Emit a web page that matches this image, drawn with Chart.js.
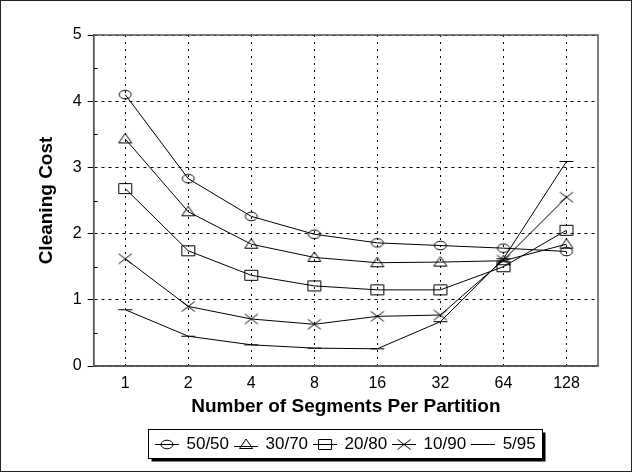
<!DOCTYPE html>
<html>
<head>
<meta charset="utf-8">
<script src="https://cdn.jsdelivr.net/npm/chart.js@4/dist/chart.umd.min.js"></script>
<style>
  html, body { margin: 0; padding: 0; background: #fff; }
  #wrap { width: 632px; height: 472px; box-sizing: border-box; border: 1px solid #222; position: relative; }
  canvas { display: block; }
</style>
</head>
<body>
<div id="wrap"><canvas id="chart" width="630" height="470"></canvas></div>
<script>
// segments per partition
const categories = ['1', '2', '4', '8', '16', '32', '64', '128'];

const cost5050 = [4.10, 2.83, 2.26, 1.99, 1.86, 1.82, 1.78, 1.73];
const cost3070 = [3.43, 2.33, 1.84, 1.64, 1.56, 1.57, 1.59, 1.84];
const cost2080 = [2.68, 1.74, 1.37, 1.21, 1.15, 1.15, 1.50, 2.05];
const cost1090 = [1.62, 0.90, 0.71, 0.63, 0.75, 0.77, 1.60, 2.55];
const cost0595 = [0.85, 0.45, 0.32, 0.27, 0.26, 0.67, 1.62, 3.09];

const seriesNames = ['50/50', '30/70', '20/80', '10/90', '5/95'];
const markers = ['ellipse', 'triangle', 'square', 'cross', 'dash'];

const yTicks = [0, 1, 2, 3, 4, 5];

const FONT = "'Liberation Sans', Arial, sans-serif";

// little canvases used as marker images (points and legend)
const makeIcon = (kind, w, h, withLine) => {
    const c = document.createElement('canvas');
    c.width = w;
    c.height = h;
    const g = c.getContext('2d');
    const cx = w / 2, cy = Math.floor(h / 2) + 0.5;
    g.strokeStyle = '#000';
    g.lineWidth = 1;
    g.beginPath();
    if (kind === 'ellipse') {
        g.ellipse(cx, cy, 6, 4.3, 0, 0, Math.PI * 2);
    } else if (kind === 'triangle') {
        g.moveTo(cx, cy - 5.5);
        g.lineTo(cx + 6.5, cy + 4);
        g.lineTo(cx - 6.5, cy + 4);
        g.closePath();
    } else if (kind === 'square') {
        g.rect(cx - 6.5, cy - 5, 13, 10);
    } else if (kind === 'cross') {
        g.moveTo(cx - 6.5, cy - 5);
        g.lineTo(cx + 6.5, cy + 5);
        g.moveTo(cx + 6.5, cy - 5);
        g.lineTo(cx - 6.5, cy + 5);
    } else if (kind === 'dash') {
        g.moveTo(cx - 7, cy);
        g.lineTo(cx + 7, cy);
    }
    g.stroke();
    if (withLine) {
        const ly = kind === 'triangle' ? cy + 2 : cy;
        g.beginPath();
        g.moveTo(0, ly);
        g.lineTo(w, ly);
        g.stroke();
    }
    return c;
};

const pointIcons = markers.map(m => makeIcon(m, 16, 13, false));
const legendIcons = markers.map(m => makeIcon(m, 24, 13, true));

const makeSet = (i, data) => ({
    label: seriesNames[i],
    data,
    borderColor: '#000',
    borderWidth: 1,
    backgroundColor: 'transparent',
    pointStyle: pointIcons[i],
    pointRadius: 7,
    pointHoverRadius: 7,
    tension: 0
});

// frame, minor ticks and legend box with shadow
const extras = {
    id: 'extras',
    beforeDraw(chart) {
        const boxes = chart.legend.legendHitBoxes;
        if (!boxes || !boxes.length) return;
        const l = Math.min(...boxes.map(b => b.left));
        const r = Math.max(...boxes.map(b => b.left + b.width));
        const t = Math.min(...boxes.map(b => b.top));
        const bt = Math.max(...boxes.map(b => b.top + b.height));
        const x = Math.round(l - 8) + 0.5, y = Math.round(t - 7) + 0.5;
        const w = Math.round(r - l + 14), h = Math.round(bt - t + 12);
        const ctx = chart.ctx;
        ctx.save();
        ctx.fillStyle = '#000';
        ctx.fillRect(x + 3, y + 3, w, h);
        ctx.fillStyle = '#fff';
        ctx.fillRect(x, y, w, h);
        ctx.strokeStyle = '#000';
        ctx.lineWidth = 1;
        ctx.strokeRect(x, y, w, h);
        ctx.restore();
    },
    afterDatasetsDraw(chart) {
        const { ctx, chartArea: a, scales } = chart;
        ctx.save();
        ctx.strokeStyle = '#555';
        ctx.lineWidth = 1.5;
        ctx.strokeRect(a.left, a.top, a.right - a.left, a.bottom - a.top);
        ctx.strokeStyle = '#000';
        ctx.lineWidth = 1;
        for (let v = 0.5; v < 5; v += 1) {
            const y = Math.round(scales.y.getPixelForValue(v)) + 0.5;
            ctx.beginPath();
            ctx.moveTo(a.left, y);
            ctx.lineTo(a.left + 4, y);
            ctx.stroke();
        }
        ctx.restore();
    }
};

new Chart(document.getElementById('chart'), {
    type: 'line',
    data: {
        labels: categories,
        datasets: [
            makeSet(0, cost5050),
            makeSet(1, cost3070),
            makeSet(2, cost2080),
            makeSet(3, cost1090),
            makeSet(4, cost0595)
        ]
    },
    options: {
        responsive: false,
        animation: false,
        events: [],
        layout: { padding: { top: 34, right: 33, left: 34, bottom: 8 } },
        plugins: {
            legend: {
                position: 'bottom',
                fullSize: false,
                labels: {
                    usePointStyle: true,
                    pointStyleWidth: 22,
                    padding: 6,
                    color: '#000',
                    font: { family: FONT, size: 17 },
                    generateLabels(chart) {
                        return chart.data.datasets.map((ds, i) => ({
                            text: ds.label,
                            pointStyle: legendIcons[i],
                            fillStyle: 'transparent',
                            strokeStyle: '#000',
                            lineWidth: 1,
                            fontColor: '#000',
                            hidden: false,
                            datasetIndex: i
                        }));
                    }
                }
            },
            tooltip: { enabled: false }
        },
        scales: {
            x: {
                offset: true,
                grid: {
                    offset: false,
                    color: '#000',
                    drawTicks: false
                },
                border: { display: true, color: '#555', width: 1.5, dash: [2, 5] },
                ticks: { color: '#000', padding: 8, font: { family: FONT, size: 16 } },
                title: {
                    display: true,
                    text: 'Number of Segments Per Partition',
                    color: '#000',
                    padding: { top: -6, bottom: 12 },
                    font: { family: FONT, size: 19, weight: 'bold' }
                }
            },
            y: {
                min: 0,
                max: 5,
                afterBuildTicks: (axis) => { axis.ticks = yTicks.map(v => ({ value: v })); },
                grid: {
                    color: '#000',
                    tickColor: '#000',
                    tickLength: 6
                },
                border: { display: true, color: '#555', width: 1.5, dash: [3, 4] },
                ticks: { color: '#000', padding: 6, font: { family: FONT, size: 16 } },
                title: {
                    display: true,
                    text: 'Cleaning Cost',
                    color: '#000',
                    padding: { top: 0, bottom: 9 },
                    font: { family: FONT, size: 19, weight: 'bold' }
                }
            }
        }
    },
    plugins: [extras]
});
</script>
</body>
</html>
